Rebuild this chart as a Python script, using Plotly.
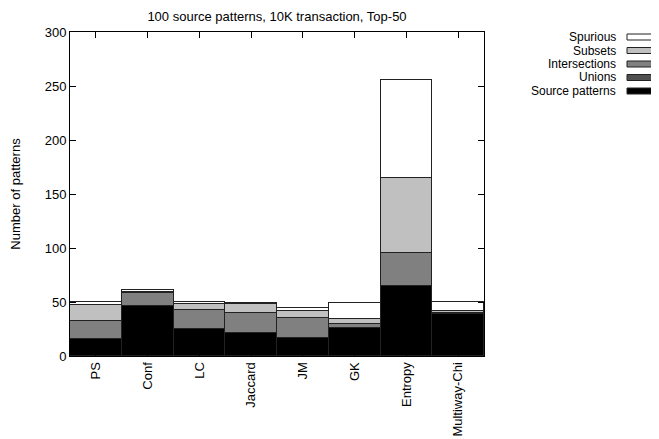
import plotly.graph_objects as go

categories = ["PS", "Conf", "LC", "Jaccard", "JM", "GK", "Entropy", "Multiway-Chi"]
source_patterns = [16, 46, 25, 21, 17, 26, 65, 39]
unions = [0, 0, 0, 0, 0, 0, 0, 0]
intersections = [16, 12, 18, 19, 18, 4, 30, 1]
subsets = [15, 1, 5, 8, 7, 4, 70, 2]
spurious = [3, 2, 2, 1, 2, 15, 91, 8]

series = [
    ("Source patterns", source_patterns, "#000000"),
    ("Unions", unions, "#505050"),
    ("Intersections", intersections, "#808080"),
    ("Subsets", subsets, "#c0c0c0"),
    ("Spurious", spurious, "#ffffff"),
]

OFF = 8  # page body margin
W, H = 659 - OFF, 439 - OFF
L, R, T, B = 70 - OFF, 484 - OFF, 32 - OFF, 356 - OFF

fig = go.Figure()
for name, vals, col in series:
    fig.add_trace(go.Bar(
        x=categories, y=vals, name=name,
        marker=dict(color=col, line=dict(color="#222222", width=1)),
        showlegend=False,
    ))

font = "Liberation Sans, Arial, sans-serif"
fig.update_layout(
    width=W, height=H,
    barmode="stack", bargap=0,
    plot_bgcolor="white", paper_bgcolor="white",
    margin=dict(l=L, r=W - R, t=T, b=H - B, pad=0, autoexpand=False),
    font=dict(family=font, size=13, color="black"),
    title=dict(text="100 source patterns, 10K transaction, Top-50",
               x=(L + R) / 2 / W, xanchor="center", y=1 - 8 / H, yanchor="middle",
               font=dict(size=13)),
)
fig.update_xaxes(
    showline=True, linecolor="black", linewidth=1, mirror="ticks",
    ticks="inside", ticklen=6, tickcolor="black", tickangle=-90,
    tickfont=dict(size=13), showgrid=False, automargin=False,
)
fig.update_yaxes(
    range=[0, 300], dtick=50, showline=True, linecolor="black", linewidth=1,
    mirror="ticks", ticks="inside", ticklen=6, tickcolor="black",
    showgrid=False, zeroline=False, tickfont=dict(size=13), automargin=False,
    title=dict(text="Number of patterns", font=dict(size=13), standoff=21),
)

# custom legend (text left of swatch, like gnuplot)
pw, ph = R - L, B - T
def px(x): return (x - OFF - L) / pw
def py(y): return (B - (y - OFF)) / ph

legend_rows = [("Spurious", "#ffffff", 37), ("Subsets", "#c0c0c0", 50.5),
               ("Intersections", "#808080", 64), ("Unions", "#505050", 77.5),
               ("Source patterns", "#000000", 91)]
for name, col, yc in legend_rows:
    fig.add_annotation(text=name, xref="paper", yref="paper", x=px(618), y=py(yc),
                       xanchor="right", yanchor="middle", showarrow=False,
                       font=dict(size=12, family=font))
    fig.add_shape(type="rect", xref="paper", yref="paper",
                  x0=px(627), x1=px(658), y0=py(yc + 3), y1=py(yc - 3),
                  fillcolor=col, line=dict(color="#222222", width=1))

fig.write_html("out.html")
